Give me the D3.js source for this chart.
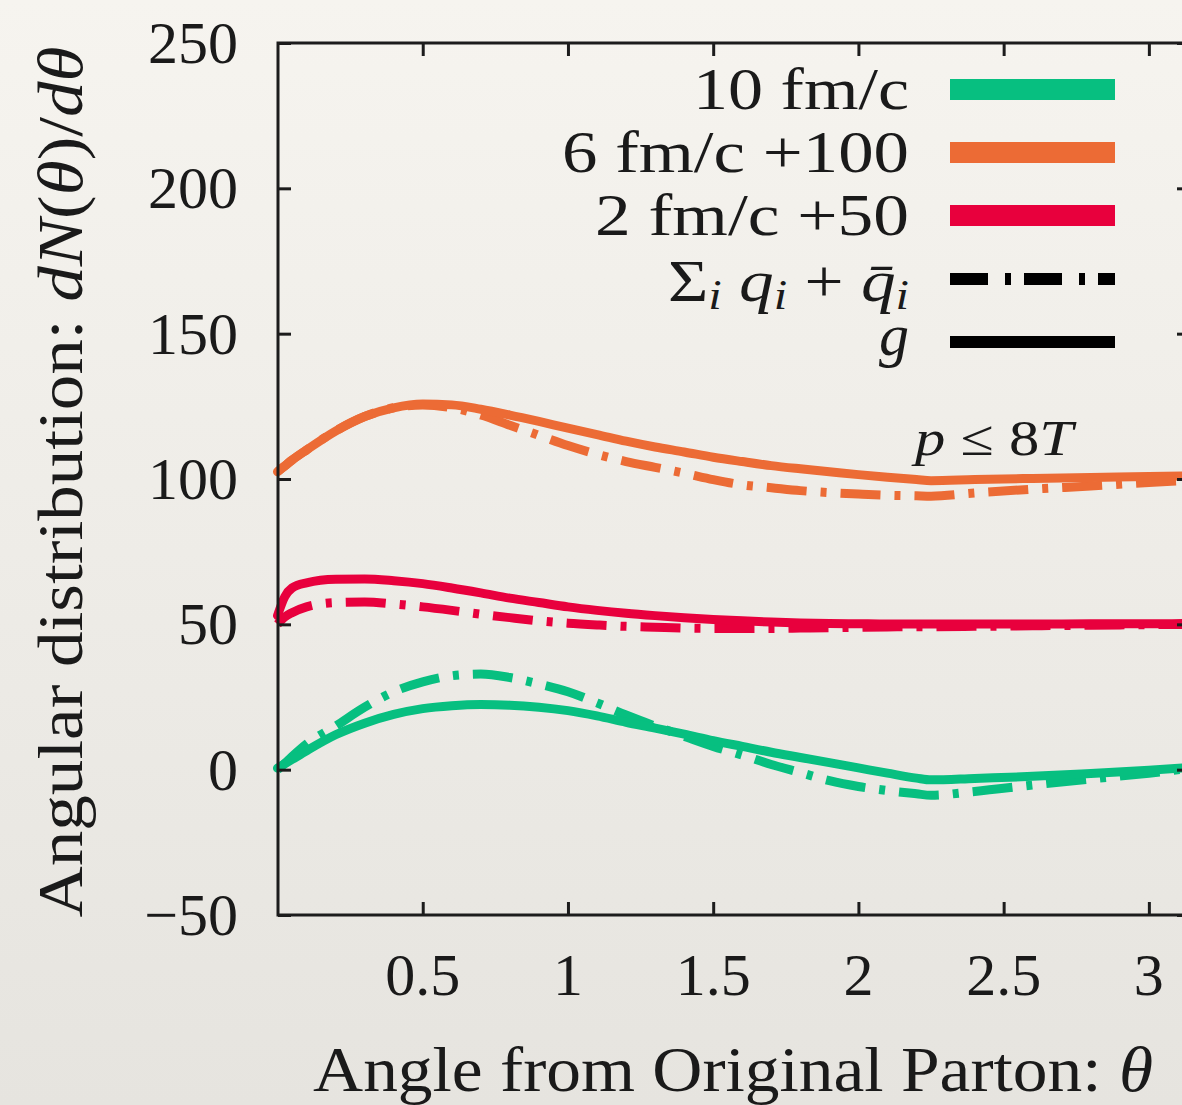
<!DOCTYPE html>
<html>
<head>
<meta charset="utf-8">
<script src="https://cdn.jsdelivr.net/npm/d3@7"></script>
<style>
  html, body { margin: 0; padding: 0; }
  body { width: 1182px; height: 1105px; overflow: hidden; }
  svg text { font-family: "Liberation Serif", "DejaVu Serif", serif; fill: #1a1a1a; }
</style>
</head>
<body>
<svg id="chart" width="1182" height="1105"></svg>
<script>
// ---- data ----
const theta = [0, 0.025, 0.05, 0.1, 0.2, 0.3, 0.4, 0.5, 0.6, 0.7, 0.8, 0.9, 1.0, 1.1, 1.2, 1.3, 1.4, 1.5, 1.6, 1.7, 1.8, 1.9, 2.0, 2.1, 2.2, 2.25, 2.4, 2.6, 2.8, 3.0, 3.1416];

// 10 fm/c
const g10 = [0.5, 2, 3.5, 6.5, 12, 16, 19, 21, 22, 22.4, 22.2, 21.5, 20.3, 18.5, 16.3, 14.3, 12.2, 10, 8, 6, 4.2, 2.4, 0.6, -1.2, -2.9, -3.5, -3, -2.3, -1.3, -0.2, 0.8];
const q10 = [0, 2.2, 4.5, 8.8, 15, 21.5, 26.8, 30.2, 32.3, 32.9, 31.7, 29.5, 26.8, 23, 18.8, 15, 11.5, 8, 5, 1.8, -1, -3.8, -5.8, -7.2, -8.3, -8.8, -7.5, -5.3, -3.2, -1.2, 0.5];
// 6 fm/c +100
const g6 = [102.5, 104.5, 106.5, 110, 116.5, 121.5, 124.5, 125.8, 125.5, 124, 122, 119.8, 117.5, 115.3, 113, 111, 109.3, 107.5, 106, 104.6, 103.5, 102.5, 101.5, 100.6, 99.8, 99.4, 99.8, 100.2, 100.5, 100.9, 101.1];
const q6 = [102.5, 104.5, 106.5, 110, 116.5, 121.5, 124.5, 125.5, 124.5, 122, 118.5, 115, 111.5, 108.5, 106, 104, 102, 99.8, 98, 97, 96, 95.3, 94.8, 94.4, 94.2, 94.1, 95.2, 96.5, 97.6, 98.8, 99.5];
// 2 fm/c +50
const g2 = [53, 59.5, 62.5, 64.3, 65.5, 65.6, 65, 64, 62.5, 60.8, 59, 57.5, 56, 54.8, 53.8, 53, 52.3, 51.7, 51.2, 50.8, 50.5, 50.3, 50.2, 50.1, 50.1, 50.1, 50.1, 50.1, 50.2, 50.2, 50.3];
const q2 = [50, 52.5, 54, 56, 57.5, 57.7, 57, 56, 54.8, 53.5, 52.3, 51.2, 50.4, 49.8, 49.3, 49, 48.7, 48.6, 48.6, 48.6, 48.7, 48.8, 49, 49.1, 49.2, 49.2, 49.3, 49.5, 49.7, 49.9, 50];

const xTicks = [0.5, 1, 1.5, 2, 2.5, 3];
const xTickLabels = ["0.5", "1", "1.5", "2", "2.5", "3"];
const yTicks = [-50, 0, 50, 100, 150, 200, 250];
const yTickLabels = ["\u221250", "0", "50", "100", "150", "200", "250"];

const seriesNames = ["10 fm/c", "6 fm/c +100", "2 fm/c +50"];
const seriesColors = ["#07bf80", "#ec6b35", "#e8003d"];
const gluonSeries = [g10, g6, g2];
const quarkSeries = [q10, q6, q2];

(function draw() {
  const svg = d3.select("#chart");
  const pLeft = 278, pRight = 1190, pTop = 43, pBottom = 915;

  const x = d3.scaleLinear().domain([0, Math.PI]).range([277.5, pRight]);
  const y = d3.scaleLinear().domain([-50, 250]).range([pBottom, pTop]);

  // background (paper)
  const defs = svg.append("defs");
  const grad = defs.append("linearGradient").attr("id", "bg").attr("x1", 0).attr("y1", 0).attr("x2", 0).attr("y2", 1);
  grad.append("stop").attr("offset", "0%").attr("stop-color", "#f6f4ef");
  grad.append("stop").attr("offset", "100%").attr("stop-color", "#e6e4df");
  svg.append("rect").attr("width", 1182).attr("height", 1105).attr("fill", "url(#bg)");

  defs.append("clipPath").attr("id", "plotclip")
    .append("rect").attr("x", 270).attr("y", pTop).attr("width", pRight - 270).attr("height", pBottom - pTop);

  // curves
  const line = d3.line().x(d => x(d[0])).y(d => y(d[1])).curve(d3.curveMonotoneX);
  const plot = svg.append("g").attr("clip-path", "url(#plotclip)");
  const dashPattern = "40,14,6,14";

  quarkSeries.forEach((s, i) => {
    plot.append("path")
      .attr("d", line(theta.map((t, k) => [t, s[k]])))
      .attr("fill", "none").attr("stroke", seriesColors[i]).attr("stroke-width", 9)
      .attr("stroke-dasharray", dashPattern).attr("stroke-linejoin", "round");
  });
  gluonSeries.forEach((s, i) => {
    plot.append("path")
      .attr("d", line(theta.map((t, k) => [t, s[k]])))
      .attr("fill", "none").attr("stroke", seriesColors[i]).attr("stroke-width", 9)
      .attr("stroke-linejoin", "round").attr("stroke-linecap", "round");
  });

  // axes frame
  const axisColor = "#1c1c1c";
  svg.append("rect").attr("x", pLeft).attr("y", pTop).attr("width", pRight - pLeft).attr("height", pBottom - pTop)
    .attr("fill", "none").attr("stroke", axisColor).attr("stroke-width", 3);

  // ticks (inward, all four sides) via d3 axes
  const tickLen = 13;
  const xb = svg.append("g").attr("transform", `translate(0,${pBottom})`)
    .call(d3.axisBottom(x).tickValues(xTicks).tickSize(-tickLen).tickFormat(""));
  const xt = svg.append("g").attr("transform", `translate(0,${pTop})`)
    .call(d3.axisTop(x).tickValues(xTicks).tickSize(-tickLen).tickFormat(""));
  const yl = svg.append("g").attr("transform", `translate(${pLeft},0)`)
    .call(d3.axisLeft(y).tickValues(yTicks).tickSize(-tickLen).tickFormat(""));
  const yr = svg.append("g").attr("transform", `translate(${pRight},0)`)
    .call(d3.axisRight(y).tickValues(yTicks).tickSize(-tickLen).tickFormat(""));
  [xb, xt, yl, yr].forEach(g => {
    g.select(".domain").remove();
    g.selectAll(".tick line").attr("stroke", axisColor).attr("stroke-width", 3);
  });

  // tick labels
  svg.append("g").selectAll("text").data(yTicks).join("text")
    .attr("x", 238).attr("y", d => y(d) + 20)
    .attr("text-anchor", "end").attr("font-size", 60)
    .text((d, i) => yTickLabels[i]);
  svg.append("g").selectAll("text").data(xTicks).join("text")
    .attr("x", d => x(d)).attr("y", 995)
    .attr("text-anchor", "middle").attr("font-size", 60)
    .text((d, i) => xTickLabels[i]);

  // axis titles
  const xTitle = svg.append("text").attr("x", 733).attr("y", 1091).attr("text-anchor", "middle")
    .attr("font-size", 64).attr("textLength", 840).attr("lengthAdjust", "spacingAndGlyphs");
  xTitle.append("tspan").text("Angle from Original Parton:  ");
  xTitle.append("tspan").attr("font-style", "italic").text("\u03B8");

  const yTitle = svg.append("text").attr("transform", "translate(82,482) rotate(-90)").attr("text-anchor", "middle")
    .attr("font-size", 64).attr("textLength", 871).attr("lengthAdjust", "spacingAndGlyphs");
  yTitle.append("tspan").text("Angular distribution:  ");
  yTitle.append("tspan").attr("font-style", "italic").text("dN");
  yTitle.append("tspan").text("(");
  yTitle.append("tspan").attr("font-style", "italic").text("\u03B8");
  yTitle.append("tspan").text(")/");
  yTitle.append("tspan").attr("font-style", "italic").text("d\u03B8");

  // legend
  const legX1 = 950, legX2 = 1115, legTextX = 909;
  const rowY = [89.5, 152.5, 215.5, 279, 342];
  const legTextLen = [216, 347, 314];
  seriesNames.forEach((name, i) => {
    svg.append("line").attr("x1", legX1).attr("x2", legX2).attr("y1", rowY[i]).attr("y2", rowY[i])
      .attr("stroke", seriesColors[i]).attr("stroke-width", 21);
    svg.append("text").attr("x", legTextX).attr("y", rowY[i] + 19).attr("text-anchor", "end")
      .attr("font-size", 60).attr("textLength", legTextLen[i]).attr("lengthAdjust", "spacingAndGlyphs")
      .text(name);
  });
  // quark entry
  svg.append("line").attr("x1", legX1).attr("x2", legX2).attr("y1", rowY[3]).attr("y2", rowY[3])
    .attr("stroke", "#000").attr("stroke-width", 12).attr("stroke-dasharray", "38,17,6,13");
  const qt = svg.append("text").attr("x", legTextX).attr("y", rowY[3] + 22).attr("text-anchor", "end")
    .attr("font-size", 60).attr("textLength", 241).attr("lengthAdjust", "spacingAndGlyphs");
  qt.append("tspan").text("\u03A3");
  qt.append("tspan").attr("font-style", "italic").attr("font-size", 42).attr("dy", 8).text("i");
  qt.append("tspan").attr("font-style", "italic").attr("dy", -8).text(" q");
  qt.append("tspan").attr("font-style", "italic").attr("font-size", 42).attr("dy", 8).text("i");
  qt.append("tspan").attr("dy", -8).text(" + ");
  qt.append("tspan").attr("font-style", "italic").text("q\u0304");
  qt.append("tspan").attr("font-style", "italic").attr("font-size", 42).attr("dy", 8).text("i");
  // gluon entry
  svg.append("line").attr("x1", legX1).attr("x2", legX2).attr("y1", rowY[4]).attr("y2", rowY[4])
    .attr("stroke", "#000").attr("stroke-width", 12);
  svg.append("text").attr("x", legTextX).attr("y", rowY[4] + 13).attr("text-anchor", "end")
    .attr("font-size", 60).attr("font-style", "italic").text("g");

  // annotation
  const an = svg.append("text").attr("x", 994).attr("y", 455).attr("text-anchor", "middle")
    .attr("font-size", 50).attr("textLength", 158).attr("lengthAdjust", "spacingAndGlyphs");
  an.append("tspan").attr("font-style", "italic").text("p");
  an.append("tspan").text(" \u2264 8");
  an.append("tspan").attr("font-style", "italic").text("T");
})();
</script>
</body>
</html>
